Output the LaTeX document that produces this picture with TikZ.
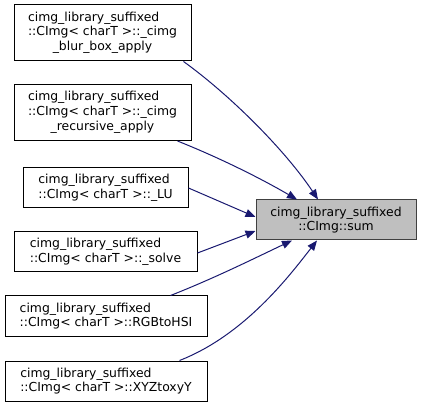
\documentclass[tikz,border=0pt]{standalone}
\usepackage{fontspec}
\setmainfont{DejaVu Sans}
\usetikzlibrary{arrows.meta}
\definecolor{edgeblue}{HTML}{191970}
\definecolor{mainfill}{HTML}{BFBFBF}
\definecolor{mainline}{HTML}{404040}

\begin{document}
\begin{tikzpicture}[x=1pt, y=-1pt,
    fnbox/.style={draw=black, fill=white, line width=1pt, inner sep=0pt, font=\fontsize{12.4}{14.8}\selectfont},
    mainbox/.style={draw=mainline, fill=mainfill, line width=1pt, inner sep=0pt, align=center, font=\fontsize{12.4}{14.8}\selectfont},
    calls/.style={draw=edgeblue, line width=1pt, -{Triangle[length=10pt, width=8pt]}, fill=none}]
            \useasboundingbox (0,0) rectangle (421,409);

            \node[fnbox, minimum width=177pt, minimum height=56pt] (blur) at (102.5, 33) {\begin{tabular}{@{}l@{}}cimg\_library\_suffixed\\::CImg< charT >::\_cimg\\\multicolumn{1}{@{}c@{}}{\_blur\_box\_apply}\end{tabular}};
            \node[fnbox, minimum width=177pt, minimum height=56pt] (recursive) at (102.5, 112.5) {\begin{tabular}{@{}l@{}}cimg\_library\_suffixed\\::CImg< charT >::\_cimg\\\multicolumn{1}{@{}c@{}}{\_recursive\_apply}\end{tabular}};
            \node[fnbox, minimum width=165pt, minimum height=40pt, align=left] (lu) at (105.5, 188) {cimg\_library\_suffixed\\::CImg< charT >::\_LU};
            \node[fnbox, minimum width=183pt, minimum height=40pt, align=left] (solve) at (105.5, 252) {cimg\_library\_suffixed\\::CImg< charT >::\_solve};
            \node[fnbox, minimum width=202pt, minimum height=40pt, align=left] (rgb) at (106, 316) {cimg\_library\_suffixed\\::CImg< charT >::RGBtoHSI};
            \node[fnbox, minimum width=202pt, minimum height=40pt, align=left] (xyz) at (106, 381) {cimg\_library\_suffixed\\::CImg< charT >::XYZtoxyY};

            \node[mainbox, minimum width=160pt, minimum height=40pt] (sum) at (336, 220) {cimg\_library\_suffixed\\::CImg::sum};

            \draw[calls] ([xshift=-8pt]blur.south east) .. controls (230, 95) and (285, 150) .. ([xshift=-18pt]sum.north);
            \draw[calls] ([xshift=-14pt]recursive.south east) .. controls (220, 158) and (260, 178) .. ([xshift=-39pt]sum.north);
            \draw[calls] (lu.east) -- ([yshift=3pt]sum.west);
            \draw[calls] ([yshift=-1pt]solve.east) -- ([yshift=-11pt]sum.west);
            \draw[calls] ([xshift=-37pt]rgb.north east) .. controls (215, 278) and (255, 258) .. ([xshift=-44pt]sum.south);
            \draw[calls] ([xshift=-28pt]xyz.north east) .. controls (245, 335) and (290, 275) .. ([xshift=-19pt]sum.south);
\end{tikzpicture}
\end{document}
